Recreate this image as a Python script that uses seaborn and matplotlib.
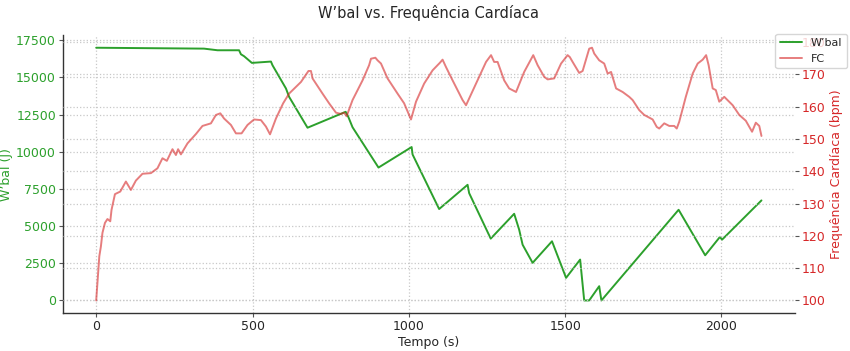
import matplotlib
matplotlib.use("Agg")
import matplotlib.pyplot as plt
import seaborn as sns
import numpy as np

# W'bal (J) vs time (s)
wbal_t = [0, 345, 388, 457, 463, 473, 498, 559, 564, 607, 617, 676, 798, 807, 820, 903,
          1009, 1012, 1097, 1188, 1193, 1262, 1337, 1353, 1364, 1396, 1458, 1503, 1548,
          1561, 1577, 1609, 1616, 1863, 1948, 1995, 2002, 2128]
wbal_v = [17000, 16940, 16830, 16830, 16560, 16430, 15980, 16070, 15820, 14260, 13700,
          11620, 12690, 12320, 11650, 8940, 10320, 9820, 6150, 7780, 7220, 4160, 5830,
          4760, 3750, 2530, 3980, 1520, 2750, 0, 0, 960, 0, 6100, 3040, 4270, 4090, 6730]

# Heart rate (bpm) vs time (s)
fc_t = [0, 10, 15, 20, 28, 36, 45, 49, 60, 77, 95, 111, 127, 148, 175, 196, 212, 226,
        244, 255, 262, 271, 292, 319, 340, 367, 383, 397, 409, 431, 447, 465, 484, 505,
        527, 543, 556, 575, 598, 617, 655, 679, 687, 692, 724, 745, 767, 783, 793, 801,
        820, 852, 873, 879, 893, 900, 911, 932, 964, 985, 1007, 1023, 1049, 1076, 1099,
        1108, 1119, 1140, 1172, 1183, 1215, 1247, 1263, 1273, 1284, 1305, 1321, 1343,
        1369, 1398, 1412, 1433, 1444, 1465, 1487, 1508, 1515, 1524, 1545, 1556, 1577,
        1586, 1593, 1609, 1625, 1636, 1647, 1663, 1684, 1705, 1716, 1737, 1753, 1780,
        1793, 1801, 1817, 1833, 1849, 1857, 1865, 1886, 1908, 1924, 1940, 1951, 1959,
        1972, 1982, 1993, 2009, 2036, 2057, 2078, 2098, 2110, 2121, 2128]
fc_v = [100, 113.7, 116.7, 120.9, 124, 125.2, 124.5, 128, 132.9, 133.7, 136.8, 134.2,
        137.1, 139.2, 139.4, 140.9, 144, 143.2, 146.8, 145, 146.8, 145.2, 148.6, 151.5,
        154, 154.8, 157.4, 157.9, 156.3, 154.3, 151.7, 151.7, 154.3, 156, 155.8, 153.8,
        151.4, 156.3, 161, 164, 167.6, 171, 171, 168.7, 164, 161, 158.1, 157.7, 158.1,
        157, 162, 168.1, 172.8, 174.8, 175.1, 174.3, 173.3, 168.7, 164, 161, 156, 161.5,
        167.1, 171.2, 173.5, 174.5, 172.2, 168.1, 162, 160.4, 167.1, 173.8, 175.9, 173.8,
        173.8, 168.1, 165.6, 164.5, 170.7, 175.9, 172.8, 169.2, 168.4, 168.7, 173.3,
        175.9, 175.3, 173.8, 170.4, 171, 177.9, 178.2, 176.4, 174.3, 173.3, 170.2, 170.7,
        165.6, 164.5, 163, 162, 158.9, 157.4, 156, 153.7, 153.2, 154.8, 154, 154, 153.2,
        155.3, 163, 170.2, 173.3, 174.5, 175.9, 172.8, 165.6, 165.1, 161.5, 163, 160.4,
        157.4, 155.6, 152.2, 155, 154, 150.9]

title = "W\u2019bal vs. Frequência Cardíaca"
xlabel = "Tempo (s)"
ylabel_left = "W\u2019bal (J)"
ylabel_right = "Frequência Cardíaca (bpm)"
label_w = "W\u2019bal"
label_fc = "FC"

sns.set_style("whitegrid")
plt.rcParams['font.family'] = ['DejaVu Sans']

GREEN = "#2ca02c"
RED = "#d62728"
DARK = "#262626"

fig = plt.figure(figsize=(8.5, 3.51), dpi=100)
ax1 = fig.add_axes([0.074, 0.108, 0.861, 0.792])
ax2 = ax1.twinx()

sns.lineplot(x=wbal_t, y=wbal_v, ax=ax1, color=GREEN, linewidth=1.4, label=label_w, legend=False)
sns.lineplot(x=fc_t, y=fc_v, ax=ax2, color=RED, alpha=0.6, linewidth=1.4, label=label_fc, legend=False)

ax1.set_xlim(-106.5, 2234.5)
ax1.set_ylim(-850, 17850)
ax2.set_ylim(96.1, 182.1)
ax1.set_xticks([0, 500, 1000, 1500, 2000])
ax1.set_yticks(np.arange(0, 17501, 2500))
ax2.set_yticks(np.arange(100, 181, 10))

fs = 9
ax1.set_xlabel(xlabel, fontsize=fs, color=DARK, labelpad=2)
ax1.set_ylabel(ylabel_left, fontsize=fs, color=GREEN, labelpad=2)
ax2.set_ylabel(ylabel_right, fontsize=fs, color=RED, labelpad=3)
ax1.set_title(title, fontsize=10.5, color=DARK, pad=12)
ax1.tick_params(axis='y', left=True, labelcolor=GREEN, color="#555555", labelsize=fs, length=3, width=0.8, pad=2)
ax1.tick_params(axis='x', bottom=True, labelcolor=DARK, color="#555555", labelsize=fs, length=3, width=0.8, pad=2)
ax2.tick_params(axis='y', right=True, labelcolor=RED, color="#555555", labelsize=fs, length=3, width=0.8, pad=2)

grid_kw = dict(linestyle=':', linewidth=0.9, color='#c8c8c8')
ax1.grid(True, **grid_kw)
ax2.grid(True, axis='y', **grid_kw)
ax2.grid(False, axis='x')
for a in (ax1, ax2):
    for s in ("top", "right"):
        a.spines[s].set_visible(False)
ax1.spines["left"].set_color("#333333")
ax1.spines["bottom"].set_color("#333333")
ax1.spines["left"].set_linewidth(1.0)
ax1.spines["bottom"].set_linewidth(1.0)
ax2.spines["left"].set_visible(False)
ax2.spines["bottom"].set_visible(False)
ax1.set_axisbelow(True)

h1, l1 = ax1.get_legend_handles_labels()
h2, l2 = ax2.get_legend_handles_labels()
fig.legend(h1 + h2, l1 + l2, loc='upper right', bbox_to_anchor=(1.003, 0.92),
           fontsize=8, frameon=True, framealpha=0.8, edgecolor='#cccccc')

fig.savefig("out.png", dpi=100)
